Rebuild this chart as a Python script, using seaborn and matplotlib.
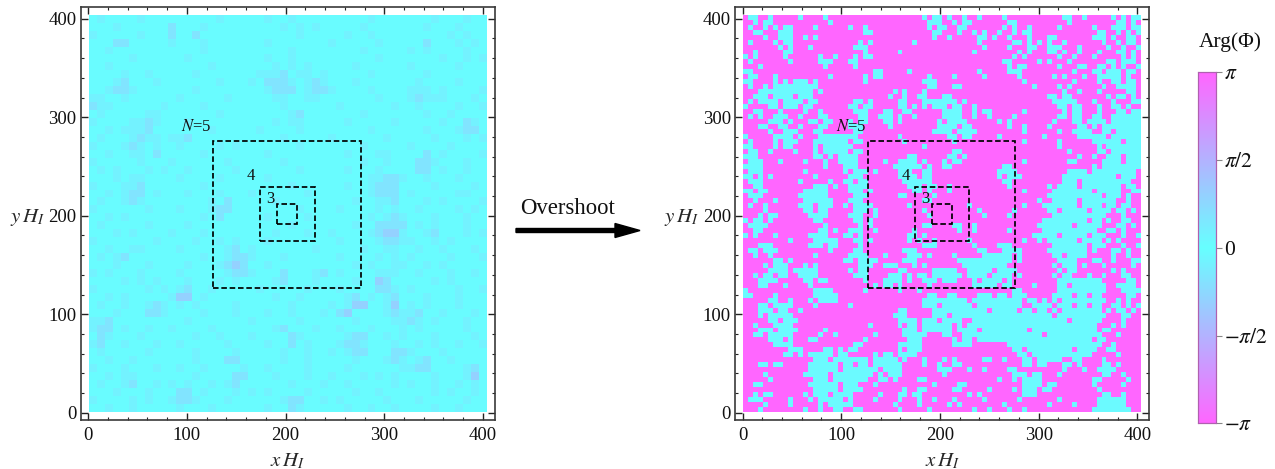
import numpy as np
import pandas as pd
import matplotlib
matplotlib.use("Agg")
import matplotlib.pyplot as plt
import seaborn as sns
from matplotlib.colors import LinearSegmentedColormap
from matplotlib.patches import FancyArrow, Rectangle
from matplotlib.transforms import Affine2D, IdentityTransform

# rows run top to bottom on a coarse grid
# left panel: . 1 2 3 = growing phase away from zero
left_rows = [
    ".1....1... ......1... ..1..1.... .....1.... ...1...1..",
    "...1...... 2...1..... ....1.1.1. ....1..... ..1...1...",
    "1.....1... 2..2...... ......1... ..1..1.... .....1.1..",
    "...22..... 1...1..... ..1....... 1.....1... ..2...1.1.",
    "..1....... ....1..... .....1.... ....1..... 1.1....1..",
    ".....1.... ..1....... ..1..1.... ......1... ....1..1.1",
    "..1....... .....1.... ...1.1.1.. ...1...... 1.....1...",
    "....1..1.. ...1...... .1112.11.1 .....1.... ..1.......",
    "...12...1. ......1... 1.2221.121 ...1...... .1....1...",
    "..1221.... ...1...... ..1222.122 1....1.... 111.1....1",
    "11..1..... .1.....1.. ...11..11. ......1... 12111...1.",
    "211......1 ....1..... ....1..... .1......1. .1....1..1",
    ".1.....11. ......1... .....12... ....1..... ..1..1....",
    "1....1121. ..1....... ...1.11... ..1.....1. ....1..21.",
    "..1.1112.. .....1.... .1....1... .....1.... ..1...122.",
    ".1...1211. 112....... ....1..... 1......1.. ...1...1.1",
    "1...121.1. .1....1.1. ......1... ....1..... 1....1....",
    "..1..11.2. ....1..... ..1....... ..1...11.. ..2.1....1",
    "1.....1... 1......1.. ....1..... ....1..1.. .221...1..",
    ".1.1...1.1 ..1.....1. ......1... ..1...1... .22.1..1..",
    "...1.11... .1....1... ..1....... .....11221 ..1...1...",
    "1...112... ....1..... .....1.... ..1..1222. ...1....1.",
    "..1.122.1. ..1...1... 1......1.. .....1222. 1.....11..",
    ".1..121... .....1.2.. ...1...... ...1..112. ..1.1....1",
    "1......1.. .1...122.. ......1... .1....1.1. .1....1.1.",
    "..1.1..... ....1.2... ..1....1.. .....1.121 ...1...1..",
    ".1.....1.. ..1....... .....1.... ...1..2222 .1.1...1..",
    "...1.1.... 1...1..... ...1...1.. 1....12331 ..12...1.1",
    "1.......1. ...1..1.1. ..1....... .1....1221 1..1.1....",
    "..1..11... .1.....12. 1.......1. ....1..11. .1..1...1.",
    ".1.12..... ....1..122 1...1..... .1....1.1. 1....1...1",
    "...1...1.. ..1...1232 ..1....... ...1.1..11 ..1.1.....",
    "1.1...1... .1.....122 1...2...12 .1....111. .1...1..1.",
    "....1.1.1. ..1...1.1. ...12...1. ...1..32.. ...1.1....",
    "1......1.1 .12..1.... .1.....1.. .1....221. 1.....1..1",
    "..1.1..... 133.1..... ...1..1... ..12.1.12. ..1...1...",
    ".1..1..121 .1.1....1. .....1.... 1.133..13. 1.1...1...",
    "...1...221 ....1...1. ..1..1...1 .23....121 12..1...1.",
    "112....... ..1....... 1.....1... ...1....11 21.1...1..",
    "122.1..1.. 1....1.... ...12...1. .1...1...1 .1.....1..",
    ".21...1... ...1..1... 1....21... ..122..1.1 ...1....1.",
    "12..1...1. .1.....1.. ..1..2.1.. .1221...1. .1.1..1..1",
    ".1.....1.. ...1....1. ....1..1.. 1.122...22 1...1.....",
    "..1..1.... ...1...22. ....1..1.. ...1...121 .12..1....",
    "1...1...1. .1..1....1 ..1....1.. ..1......1 122....12.",
    "..1.11.... ...1....22 ...1...1.. 1...1.1.1. ...1...13.",
    ".1..12..1. 1.1..1.12. .....1...1 ..1.....1. 1..1..1.1.",
    "...1...1.. .22.1...1. 1.1....1.. ...1..1... ...1.1..1.",
    "1....1.1.. 1221...1.. ....122..1 .1.....1.. .1.....1..",
    "..1..1.... .1...1.... ..1..21... ..1..1..1. ...1..1...",
]

# right panel: . = phase near pi, o = phase near 0
right_rows = [
    ".oo..o.... .o....o... .......... ......o.oo .o..o..o.. ..o....... ....oo..o. ....o.o.oo",
    "..o.oo.... .......o.. .......... .......ooo ..o.oo.... ...oo..... .....o.... .....oo.o.",
    ".o..o.o.oo ....o..... .o..o..... .......o.o o..oo..... ..o.o..o.. ...o...... o...ooo.oo",
    "..oo...ooo .......... ....oo.... ........oo ...o..o.o. .o..o.oo.. .......... .oo..o.o.o",
    "....o..ooo ..o.o..... .......... ........o. .o.....oo. o..o...o.. .oo....... ooo.o..oo.",
    ".o....o.oo .......... ...o.o.... ....o..... .......o.. ....oo.o.o .o..o..... ..o..o.oo.",
    ".......o.o ...o...... ..ooo..... .......... ........o. ...o...oo. .ooo...o.. ...o..o..o",
    "..o.....oo .......... ....o..... .o........ ......o... .....o.o.. .oo.o..o.. .o...oo.o.",
    "o.o.....o. .....o..o. ..o.oo.... .......... .......... ....o.o... ...o..o... o.....o.o.",
    ".o.......o .....ooo.. .oo....... .......... .......... ..oo.....o .o...o.... ...oo.ooo.",
    "...o...... ......o... ..o....... .......... .......... ...o.oo... ...o...oo. .oo.o.o..o",
    "oo........ .......... ......oo.. ...o...... .......o.. ...ooo.... ......o... oo.ooo.oo.",
    ".oo...o... .......o.. ....o.oo.. .......o.. ..o.....o. .....o.... ..o.o...o. .ooooo.o..",
    "oo....o.o. ooo.o..... ....o..... ......ooo. .......... ......o... ......o... .o..oo.oo.",
    ".o..o.oooo ooooo..... .......... .......oo. ..oo...... ........o. ...o.o.... ..o..oooo.",
    "...ooooooo oooo.o.... .......... o.o...o... .......... .......... ....o..o.. .o.....oo.",
    "..ooo.oooo .ooo...... .........o ..o..oo... oo........ .......... .oo.oo.... ...o.oo.o.",
    ".o.oooo.oo oo.oo..... ..oo.o.... .oo...oooo ooo.o..... .......... ..ooooo... o...o...oo",
    "o....oo.oo o.oo...... .oo.oo.... .oo.o.o.oo o.oo..o... .......... ...oo.oo.. .o..oo.o..",
    "..oo...o.. ..o..o.... ..ooo...oo ..oo...... oooo..o.oo ......o... ....o.oo.. .o...oo.oo",
    ".o.o..ooo. .o...oo... ...oo..ooo .o..o..... oooo..o..o ....o..... ...oo.oo.. oo..oooooo",
    ".....ooo.o ...oo.oo.. .o.oo...oo .o.......o .oooo..... .o.o...... ..o...oo.o ooo.oooooo",
    "...oo..oo. .o...oo... .ooo.....o .........o ooo.oo.... ...o..o... .o.....oo. o.oooooooo",
    ".....o..oo o...oo.... ..oo...... ........oo oo.oooo... ......o... ...o..oooo ..oo.ooooo",
    "o.....oooo .o...ooooo ooo....... .o........ .oo.oo.... .o........ o......ooo ooo.oooooo",
    ".o....o.oo o...oooooo o.oo...... ..o....... ..o....... ......o... ...o...... oooooo.ooo",
    "oo....o.oo ....o.oooo oo........ ......o... .......... .......... ...o...... .o.ooooooo",
    ".oo..o.... o...o.oooo o.oo...... .......... ..oo...... .......... .....o.... .oo.oooooo",
    "ooo....... ....oo.o.o ooo....... ...oo..... .oo.o..... .......... .......o.. o..ooo.ooo",
    ".ooo...o.. ..o...o..o ooo.....o. .oooo.o... o.oo...... ......o... .....oo... ..oooo.ooo",
    "oooo...... ......o... ooo....... oooooo.o.. oo........ ..oo...... .......... o.oooooooo",
    ".ooo...... ..o....... o.ooo.o... .ooo..oo.. .......... .oooo..... .....oooo. ooooooooo.",
    "oo.o.o.... ....o..... .ooo...... .oooo.oo.. .......... .o.ooo.... ....oooooo ooooo.ooo.",
    ".ooo...... .o.....o.. oo.oo..... ..oooooo.. .......... ..oo...... ....ooo.oo oooooooo..",
    "..oo...... ....ooo.o. .oooo..... ...ooo.oo. .o........ ...o...... .o.oooo.oo oooooo.oo.",
    "oo.oo..... ..ooooo... .ooo.o.... ....oo.o.. .o........ ......o... ..oooooooo .ooooo..oo",
    ".ooo...... .oooooo... ..ooo..... .oo.....o. .......... .......... .ooooooooo oo.ooo.o..",
    "..o...o... ..oooooo.. .ooo...... ......oo.. .......... .........o ..ooooo.oo ooooo..o..",
    ".o..o..... .ooo.ooo.. o.oooo.... ...o...... .....o.... ......o... ooooooo.oo oo.oo.oo..",
    "....o..... ..oo.oo... ..ooo.o... ......o... .......o.. ....o..... .oo.ooooo. oooo.oo.o.",
    "...o.oo... ...oooo... .ooo..o... .......o.. ........o. ...o...... ..oooooooo ooo...o...",
    "o.oo.o.... ....oo.... ..oo.o.... .......... .......... .......... ooooooooo. oo.o..oo..",
    ".oooo..... ......o... ...o.o.... ......oo.. ..oo..o... .........o oooooo.ooo oo...oo.o.",
    "..oo...... .....oo.o. .ooo..o... ....o..... ...o..o... ...o...... oooooooooo o..oo.o...",
    "o.o...o... ...oooo... oo.o...... ...oo.o... .......... ........oo ooo.ooooo. ooo...o..o",
    ".........o ....ooooo. ..oo.o.... ...o.o..o. .....o.... ......o..o .oooooo.oo oo.o.o....",
    "...ooo.... ...ooo.oo. ...o...... ......ooo. ......o... .ooo...... ..ooooooo. ooo...o..o",
    ".oo.ooo... .......o.. ..oo...... ..ooo..... .......oo. ..oooo.... .oooooooo. o...oo.o..",
    "..o..o.... ....o..... .oooo...o. ...ooo.o.. ..o.....oo oooo.o.... ..oo.oooo. ....o..o..",
    "......oo.o .......... oo.oooo... ..ooo..... ...ooooooo oooo.o.... ...oooo... oo..o...oo",
    "....o.ooo. ..o.o..... ...ooo..oo o...o.o... ....oooooo ooo....... ..o.ooo.o. ..o.....o.",
    ".....oooo. ooooo..... .o.oo..... .oo.....oo ooo..ooooo .oooo..... ...o.oo... ....o.o...",
    "..o.oo.oo. .oooo..... ..ooo....o oo.o.oo.oo oooo.oooo. oooo.o.... ..o.oo...o ..o...oo..",
    "...oooo... ..oo.oo... ....o...oo oo.o..ooo. ooo...o.oo oo.o...... ...ooooooo oo.....oo.",
    "...oo...o. ...o...... ......o.oo .o.....o.. ......oooo o.oo....o. ...oo.oooo ooo..oooo.",
    "o......... ....oooo.. ....o..... .o...o.... .......... ....oo.... ...ooooooo ooo...oooo",
    "oo....o... ....ooooo. .......... .......oo. .oo....ooo .oo.ooo... ..oooo.oo. oo.....oo.",
    ".....oo..o ...o.oooo. .......... ......oooo ooooo.oooo oooooo.oo. o.o.oooooo ooo..o.o..",
    "...oo.oooo ....o..... .o........ ......ooo. oooooo.ooo oooooo..oo oo.ooo.oo. oo..oo.o.o",
    "...ooo.oo. .o........ .......... .oo.....oo ooooooooo. ooooo.oo.o o.o.oooooo oo.o.oo.o.",
    "...o.ooooo .......... .......... ooo.....oo o.oooooooo oooooooooo oo.ooooooo ooo...oo..",
    ".....oo.oo o......... .......... .oooo.ooo. oooo..oooo oooooooooo ooooo.oooo oo....o...",
    "..o...oooo .......... .....o.... .o.oo.oooo oo.o.ooooo oooooooooo oooooooooo o...o.o...",
    "...ooo.ooo o.....o... .......... ..ooo.oooo oo.oooo.oo ooooooo.oo oooooooooo o.oo......",
    "..oo.ooooo .....o..o. ......o... ..ooooo... oo..oooooo oooooooooo .ooooooooo oo...o....",
    ".....ooo.o ...oo..... ....o..... ...ooo.... ..o.oo.ooo oooooooooo oooooooooo .oo.......",
    "......oooo .......... ..oo...... .ooooo.... ..oooo.... ...ooooooo oooooooooo oo..o.....",
    ".........o oo....oo.o .oo....... .o.ooo.... .......... ....oo.ooo oooooo.ooo o..oo.....",
    "........oo .o.ooooo.o o.....o.oo .oooo..... .......... .....oo.oo oooooooooo .....o....",
    ".......... ....ooo.oo ooooo.oooo o.o...o... o.o.....oo ..o...oo.o oooo..oo.. ..o.......",
    "...oo.oo.. ...oooooo. oo.oo.oooo oo....o..o ..oo...... ......oo.o o...oo.o.. ..oo.o....",
    ".......... ...oooooo. ooooooo.oo oo.......o oo...o..o. ...oo..... ....o...o. .oooo.....",
    "....o..... ..ooooo.oo oooooo.o.o oo........ o......... ....ooo.oo ...o...... ..oo..o...",
    ".....o.... ....ooo.oo ooooo..oo. o....oo... .......... .o..o.oooo .......... oo.....o..",
    "..oo...... ...oooooo. ooo...o... ........o. ...oo..... ......oooo .oo....... o.....o...",
    ".......... ....ooooo. oooo...... ..o..oo... ..oo.....o ....o.ooo. oo........ .o........",
    "..o.oo.... ..o.ooo.oo oo.....o.. .oo.oo.... .....o.o.. ......ooo. .......... ..oo..o...",
    ".ooo.....o ...o.ooooo .o....o... .o...o..o. ..o.....o. .....o.... ...o...... .oooooo...",
    "....o....o .....o.ooo oo........ o....o.... .o.o...... ..o....... .o....o... .oooooo...",
    "...o...... ..o..o..oo ..oo...... .o.....o.. ......o..o ...o..o... .......... oooooooo..",
]

left_levels = {".": 0.05, "1": 0.26, "2": 0.55, "3": 0.95}
right_levels = {".": 3.14, "o": 0.1}

axis_ticks = [0, 100, 200, 300, 400]
box_edges = [(127, 276), (174.5, 229.5), (191.5, 212)]
box_labels = ["$N$=5", "4", "3"]
box_label_xy = [(110, 290), (165, 240), (185, 217)]
cbar_ticks = [-np.pi, -np.pi / 2, 0, np.pi / 2, np.pi]
cbar_labels = [r"$-\pi$", r"$-\pi/2$", "0", r"$\pi/2$", r"$\pi$"]

OFFSET = 0.8
W, H = 1275, 469

sns.set_style("white")
plt.rcParams["font.family"] = ["Liberation Serif", "DejaVu Serif"]
plt.rcParams["mathtext.fontset"] = "stix"
FRAME = "#3a3a3a"

arg_cmap = LinearSegmentedColormap.from_list(
    "arg", ["#ff66ff", "#66ffff", "#ff66ff"])


def to_table(rows, levels):
    # flip so that row 0 of the table is the bottom of the panel
    values = [[levels[c] for c in r.replace(" ", "")] for r in rows[::-1]]
    return pd.DataFrame(values)


def phase_panel(fig, left_px, table, cbar_ax=None):
    ax = fig.add_axes([left_px / W, (H - 420) / H, 414.4 / W, 413.5 / H])
    sns.heatmap(table, ax=ax, cmap=arg_cmap, vmin=-np.pi, vmax=np.pi,
                xticklabels=False, yticklabels=False,
                cbar=cbar_ax is not None, cbar_ax=cbar_ax)
    mesh = ax.collections[0]
    # heatmap counts in cells, the axes count in units of 1/H_I
    cell_x = 403.2 / table.shape[1]
    cell_y = 403.2 / table.shape[0]
    mesh.set_transform(Affine2D().scale(cell_x, cell_y).translate(OFFSET, OFFSET) + ax.transData)
    ax.set_xlim(-7.6, 412.2)
    ax.set_ylim(-7.4, 412.4)
    ax.set_aspect("auto")

    ax.set_xticks(axis_ticks)
    ax.set_yticks(axis_ticks)
    ax.set_xticklabels(axis_ticks)
    ax.set_yticklabels(axis_ticks)
    ax.set_xticks(np.arange(0, 401, 20), minor=True)
    ax.set_yticks(np.arange(0, 401, 20), minor=True)
    ax.tick_params(which="major", direction="in", length=5, width=1, color="#222222",
                   top=True, right=True, left=True, bottom=True,
                   labelsize=13.5, labelcolor="#111111")
    ax.tick_params(axis="x", which="major", pad=5)
    ax.tick_params(axis="y", which="major", pad=3)
    ax.tick_params(which="minor", direction="in", length=2.5, width=0.8, color="#222222",
                   top=True, right=True, left=True, bottom=True)
    for s in ax.spines.values():
        s.set_visible(True)
        s.set_color(FRAME)
        s.set_linewidth(1.2)

    for (a, b), txt, (tx, ty) in zip(box_edges, box_labels, box_label_xy):
        ax.add_patch(Rectangle((a, a), b - a, b - a, fill=False, edgecolor="black",
                               linewidth=1.25, linestyle=(0, (3.2, 1.6))))
        ax.text(tx, ty, txt, fontsize=12, ha="center", va="center", color="#111111")

    ax.set_xlabel("")
    ax.set_ylabel("")
    ax.text(0.5, -0.1, r"$x\,H_I$", transform=ax.transAxes, fontsize=15,
            ha="center", va="center")
    ax.text(-0.129, 0.49, r"$y\,H_I$", transform=ax.transAxes, fontsize=15,
            ha="center", va="center")
    return ax


fig = plt.figure(figsize=(W / 100, H / 100), dpi=100)
cax = fig.add_axes([1198.3 / W, (H - 423.3) / H, 17.4 / W, 351 / H])

phase_panel(fig, 80.6, to_table(left_rows, left_levels))
phase_panel(fig, 735, to_table(right_rows, right_levels), cbar_ax=cax)

cax.set_yticks(cbar_ticks)
cax.set_yticklabels(cbar_labels)
cax.tick_params(axis="y", direction="out", length=4, width=0.8, color="#888888",
                labelsize=15.5, pad=2, right=True, left=False, labelcolor="#111111")
for s in cax.spines.values():
    s.set_visible(True)
    s.set_color("#b060b0")
    s.set_linewidth(0.8)
fig.text(1230 / W, 1 - 42 / H, "Arg(Φ)", fontsize=15.5, ha="center", va="center",
         color="#111111")

fig.text(568 / W, 1 - 208 / H, "Overshoot", fontsize=16.4, ha="center", va="center",
         color="#111111")
fig.add_artist(FancyArrow(516, H - 230.5, 124, 0, width=4, head_width=14, head_length=25,
                          length_includes_head=True, color="black",
                          transform=IdentityTransform()))

fig.savefig("out.png", dpi=100)
